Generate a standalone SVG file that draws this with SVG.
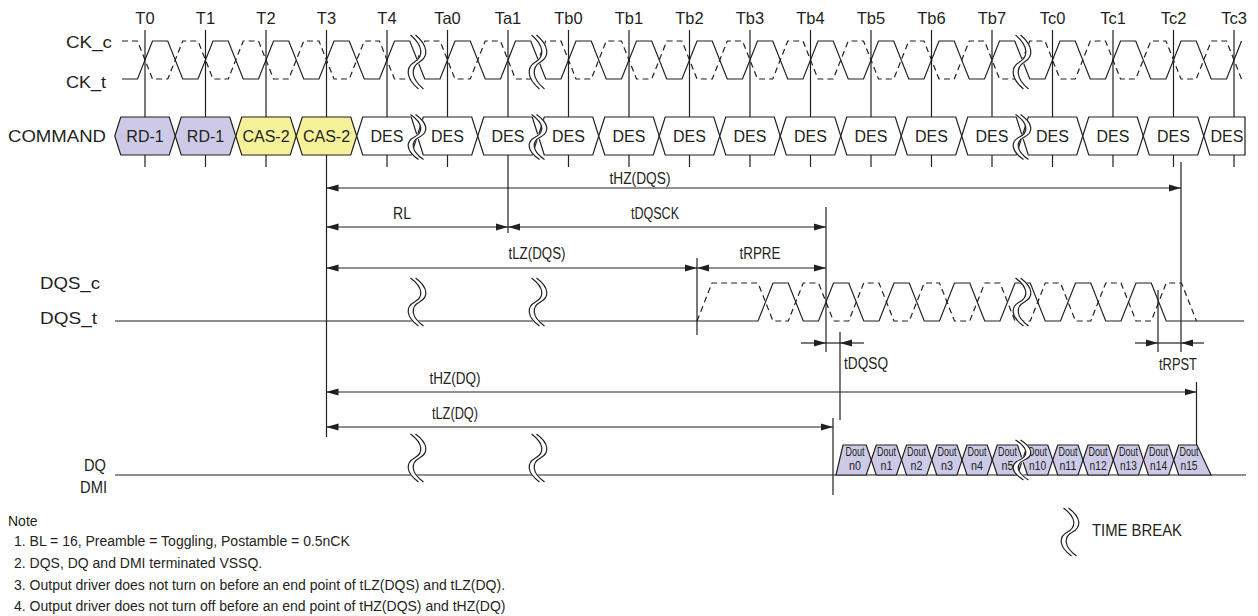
<svg xmlns="http://www.w3.org/2000/svg" width="1258" height="616" viewBox="0 0 1258 616">
<style>
text{font-family:"Liberation Sans",Arial,sans-serif;fill:#231f20}
.sig{font-size:17px}
.tl{font-size:16.5px;text-anchor:middle}
.cmd{font-size:16px;text-anchor:middle}
.tm{font-size:16px;text-anchor:middle}
.tms{font-size:16px}
.dout{font-size:12.5px;text-anchor:middle}
.note{font-size:14px}
.ln{fill:none;stroke:#231f20;stroke-width:1.2}
.dash{fill:none;stroke:#231f20;stroke-width:1.2;stroke-dasharray:6 4}
.hex{stroke:#231f20;stroke-width:1.2}
.des{fill:#fff}
.rd{fill:#cccae6}
.cas{fill:#f7f29a}
.arr{fill:none;stroke:#231f20;stroke-width:1.2;marker-start:url(#ah);marker-end:url(#ah)}
.arr1{fill:none;stroke:#231f20;stroke-width:1.2;marker-end:url(#ah)}
.bw{fill:none;stroke:#fff;stroke-width:5}
.bk{fill:none;stroke:#231f20;stroke-width:1.2}
</style>
<defs>
<marker id="ah" viewBox="0 0 12 8" refX="12" refY="4" markerWidth="12" markerHeight="8" markerUnits="userSpaceOnUse" orient="auto-start-reverse"><path d="M0,0.5 L12,4 L0,7.5 Z" fill="#231f20"/></marker>
<g id="brk">
<path class="bw" vector-effect="non-scaling-stroke" d="M-4,-25 C9,-15 9,-5 0,0 C-9,5 -9,15 4,25"/>
<path class="bk" vector-effect="non-scaling-stroke" transform="translate(-2.5,0)" d="M-4,-25 C9,-15 9,-5 0,0 C-9,5 -9,15 4,25"/>
<path class="bk" vector-effect="non-scaling-stroke" transform="translate(2.5,0)" d="M-4,-25 C9,-15 9,-5 0,0 C-9,5 -9,15 4,25"/>
</g>
</defs>
<rect width="1258" height="616" fill="#fff"/>

<g id="time-labels">
<text class="tl" x="145" y="24">T0</text>
<text class="tl" x="205.5" y="24">T1</text>
<text class="tl" x="266" y="24">T2</text>
<text class="tl" x="326.5" y="24">T3</text>
<text class="tl" x="387" y="24">T4</text>
<text class="tl" x="447.5" y="24">Ta0</text>
<text class="tl" x="508" y="24">Ta1</text>
<text class="tl" x="568.5" y="24">Tb0</text>
<text class="tl" x="629" y="24">Tb1</text>
<text class="tl" x="689.5" y="24">Tb2</text>
<text class="tl" x="750" y="24">Tb3</text>
<text class="tl" x="810.5" y="24">Tb4</text>
<text class="tl" x="871" y="24">Tb5</text>
<text class="tl" x="931.5" y="24">Tb6</text>
<text class="tl" x="992" y="24">Tb7</text>
<text class="tl" x="1052.5" y="24">Tc0</text>
<text class="tl" x="1113" y="24">Tc1</text>
<text class="tl" x="1173.5" y="24">Tc2</text>
<text class="tl" x="1234" y="24">Tc3</text>
</g>

<g id="signal-labels">
<text class="sig" x="66" y="48" textLength="46" lengthAdjust="spacingAndGlyphs">CK_c</text>
<text class="sig" x="66" y="88" textLength="40" lengthAdjust="spacingAndGlyphs">CK_t</text>
<text class="sig" x="8" y="142" textLength="98" lengthAdjust="spacingAndGlyphs">COMMAND</text>
<text class="sig" x="40" y="289" textLength="60" lengthAdjust="spacingAndGlyphs">DQS_c</text>
<text class="sig" x="40" y="324" textLength="57" lengthAdjust="spacingAndGlyphs">DQS_t</text>
<text class="sig" x="84" y="471" textLength="22" lengthAdjust="spacingAndGlyphs">DQ</text>
<text class="sig" x="80" y="493" textLength="27" lengthAdjust="spacingAndGlyphs">DMI</text>
</g>

<g id="clock">
<path class="dash" d="M122,41 L137.5,41 L152.5,79 L167.75,79 L182.75,41 L198,41 L213,79 L228.25,79 L243.25,41 L258.5,41 L273.5,79 L288.75,79 L303.75,41 L319,41 L334,79 L349.25,79 L364.25,41 L379.5,41 L394.5,79 L409.75,79 L424.75,41 L440,41 L455,79 L470.25,79 L485.25,41 L500.5,41 L515.5,79 L530.75,79 L545.75,41 L561,41 L576,79 L591.25,79 L606.25,41 L621.5,41 L636.5,79 L651.75,79 L666.75,41 L682,41 L697,79 L712.25,79 L727.25,41 L742.5,41 L757.5,79 L772.75,79 L787.75,41 L803,41 L818,79 L833.25,79 L848.25,41 L863.5,41 L878.5,79 L893.75,79 L908.75,41 L924,41 L939,79 L954.25,79 L969.25,41 L984.5,41 L999.5,79 L1014.75,79 L1029.75,41 L1045,41 L1060,79 L1075.25,79 L1090.25,41 L1105.5,41 L1120.5,79 L1135.75,79 L1150.75,41 L1166,41 L1181,79 L1196.25,79 L1211.25,41 L1226.5,41 L1241.5,79"/>
<path class="ln" d="M122,79 L137.5,79 L152.5,41 L167.75,41 L182.75,79 L198,79 L213,41 L228.25,41 L243.25,79 L258.5,79 L273.5,41 L288.75,41 L303.75,79 L319,79 L334,41 L349.25,41 L364.25,79 L379.5,79 L394.5,41 L409.75,41 L424.75,79 L440,79 L455,41 L470.25,41 L485.25,79 L500.5,79 L515.5,41 L530.75,41 L545.75,79 L561,79 L576,41 L591.25,41 L606.25,79 L621.5,79 L636.5,41 L651.75,41 L666.75,79 L682,79 L697,41 L712.25,41 L727.25,79 L742.5,79 L757.5,41 L772.75,41 L787.75,79 L803,79 L818,41 L833.25,41 L848.25,79 L863.5,79 L878.5,41 L893.75,41 L908.75,79 L924,79 L939,41 L954.25,41 L969.25,79 L984.5,79 L999.5,41 L1014.75,41 L1029.75,79 L1045,79 L1060,41 L1075.25,41 L1090.25,79 L1105.5,79 L1120.5,41 L1135.75,41 L1150.75,79 L1166,79 L1181,41 L1196.25,41 L1211.25,79 L1226.5,79 L1241.5,41"/>
</g>

<g id="connectors">
<path class="ln" d="M145,30V117 M205.5,30V117 M266,30V117 M326.5,30V117 M387,30V117 M447.5,30V117 M508,30V117 M568.5,30V117 M629,30V117 M689.5,30V117 M750,30V117 M810.5,30V117 M871,30V117 M931.5,30V117 M992,30V117 M1052.5,30V117 M1113,30V117 M1173.5,30V117 M1234,30V117"/>
<path class="ln" d="M145,155V167 M205.5,155V167 M266,155V167 M326.5,155V437 M387,155V167 M447.5,155V167 M508,155V233 M568.5,155V167 M629,155V167 M689.5,155V167 M750,155V167 M810.5,155V167 M871,155V167 M931.5,155V167 M992,155V167 M1052.5,155V167 M1113,155V167 M1173.5,155V167 M1234,155V167"/>
<path class="ln" d="M826,207V352 M697,258V335 M1181,162V352 M1158,290V352 M840,332V420 M833,418V495 M1196.5,382V445"/>
<path class="arr" d="M326.5,188 H1181"/>
<path class="arr" d="M326.5,227 H508"/>
<path class="arr" d="M508,227 H826"/>
<path class="arr" d="M326.5,268 H697"/>
<path class="arr" d="M697,268 H826"/>
<path class="arr1" d="M801,343 H826"/>
<path class="arr1" d="M864,343 H840"/>
<path class="ln" d="M826,343 H840"/>
<path class="arr1" d="M1135,343 H1158"/>
<path class="arr1" d="M1204,343 H1181"/>
<path class="ln" d="M1158,343 H1181"/>
<path class="arr" d="M326.5,392 H1196.5"/>
<path class="arr" d="M326.5,427 H833"/>
</g>

<g id="timing-labels">
<text class="tm" x="640" y="184" textLength="61" lengthAdjust="spacingAndGlyphs">tHZ(DQS)</text>
<text class="tm" x="402" y="219" textLength="18" lengthAdjust="spacingAndGlyphs">RL</text>
<text class="tm" x="655" y="219" textLength="48" lengthAdjust="spacingAndGlyphs">tDQSCK</text>
<text class="tm" x="537" y="259" textLength="57" lengthAdjust="spacingAndGlyphs">tLZ(DQS)</text>
<text class="tm" x="760" y="259" textLength="41" lengthAdjust="spacingAndGlyphs">tRPRE</text>
<text class="tms" x="844" y="369" textLength="44" lengthAdjust="spacingAndGlyphs">tDQSQ</text>
<text class="tms" x="1159" y="370" textLength="38" lengthAdjust="spacingAndGlyphs">tRPST</text>
<text class="tm" x="455" y="384" textLength="51" lengthAdjust="spacingAndGlyphs">tHZ(DQ)</text>
<text class="tm" x="455" y="419" textLength="46" lengthAdjust="spacingAndGlyphs">tLZ(DQ)</text>
</g>

<g id="cmd-T0"><path class="hex rd" d="M114.75,136 L120.75,117 L169.25,117 L175.25,136 L169.25,155 L120.75,155 Z"/><text class="cmd" x="145" y="141.5">RD-1</text></g>
<g id="cmd-T1"><path class="hex rd" d="M175.25,136 L181.25,117 L229.75,117 L235.75,136 L229.75,155 L181.25,155 Z"/><text class="cmd" x="205.5" y="141.5">RD-1</text></g>
<g id="cmd-T2"><path class="hex cas" d="M235.75,136 L241.75,117 L290.25,117 L296.25,136 L290.25,155 L241.75,155 Z"/><text class="cmd" x="266" y="141.5">CAS-2</text></g>
<g id="cmd-T3"><path class="hex cas" d="M296.25,136 L302.25,117 L350.75,117 L356.75,136 L350.75,155 L302.25,155 Z"/><text class="cmd" x="326.5" y="141.5">CAS-2</text></g>
<g id="cmd-T4"><path class="hex des" d="M356.75,136 L362.75,117 L411.25,117 L417.25,136 L411.25,155 L362.75,155 Z"/><text class="cmd" x="387" y="141.5">DES</text></g>
<g id="cmd-Ta0"><path class="hex des" d="M417.25,136 L423.25,117 L471.75,117 L477.75,136 L471.75,155 L423.25,155 Z"/><text class="cmd" x="447.5" y="141.5">DES</text></g>
<g id="cmd-Ta1"><path class="hex des" d="M477.75,136 L483.75,117 L532.25,117 L538.25,136 L532.25,155 L483.75,155 Z"/><text class="cmd" x="508" y="141.5">DES</text></g>
<g id="cmd-Tb0"><path class="hex des" d="M538.25,136 L544.25,117 L592.75,117 L598.75,136 L592.75,155 L544.25,155 Z"/><text class="cmd" x="568.5" y="141.5">DES</text></g>
<g id="cmd-Tb1"><path class="hex des" d="M598.75,136 L604.75,117 L653.25,117 L659.25,136 L653.25,155 L604.75,155 Z"/><text class="cmd" x="629" y="141.5">DES</text></g>
<g id="cmd-Tb2"><path class="hex des" d="M659.25,136 L665.25,117 L713.75,117 L719.75,136 L713.75,155 L665.25,155 Z"/><text class="cmd" x="689.5" y="141.5">DES</text></g>
<g id="cmd-Tb3"><path class="hex des" d="M719.75,136 L725.75,117 L774.25,117 L780.25,136 L774.25,155 L725.75,155 Z"/><text class="cmd" x="750" y="141.5">DES</text></g>
<g id="cmd-Tb4"><path class="hex des" d="M780.25,136 L786.25,117 L834.75,117 L840.75,136 L834.75,155 L786.25,155 Z"/><text class="cmd" x="810.5" y="141.5">DES</text></g>
<g id="cmd-Tb5"><path class="hex des" d="M840.75,136 L846.75,117 L895.25,117 L901.25,136 L895.25,155 L846.75,155 Z"/><text class="cmd" x="871" y="141.5">DES</text></g>
<g id="cmd-Tb6"><path class="hex des" d="M901.25,136 L907.25,117 L955.75,117 L961.75,136 L955.75,155 L907.25,155 Z"/><text class="cmd" x="931.5" y="141.5">DES</text></g>
<g id="cmd-Tb7"><path class="hex des" d="M961.75,136 L967.75,117 L1016.25,117 L1022.25,136 L1016.25,155 L967.75,155 Z"/><text class="cmd" x="992" y="141.5">DES</text></g>
<g id="cmd-Tc0"><path class="hex des" d="M1022.25,136 L1028.25,117 L1076.75,117 L1082.75,136 L1076.75,155 L1028.25,155 Z"/><text class="cmd" x="1052.5" y="141.5">DES</text></g>
<g id="cmd-Tc1"><path class="hex des" d="M1082.75,136 L1088.75,117 L1137.25,117 L1143.25,136 L1137.25,155 L1088.75,155 Z"/><text class="cmd" x="1113" y="141.5">DES</text></g>
<g id="cmd-Tc2"><path class="hex des" d="M1143.25,136 L1149.25,117 L1197.75,117 L1203.75,136 L1197.75,155 L1149.25,155 Z"/><text class="cmd" x="1173.5" y="141.5">DES</text></g>
<g id="cmd-Tc3"><path class="hex des" d="M1203.75,136 L1209.75,117 L1245,117 L1245,155 L1209.75,155 Z"/><text class="cmd" x="1227" y="141.5">DES</text></g>

<g id="dqs">
<path class="dash" d="M697,321 L712,283 L758,283 L773,321 L788.25,321 L803.25,283 L818.5,283 L833.5,321 L848.75,321 L863.75,283 L879,283 L894,321 L909.25,321 L924.25,283 L939.5,283 L954.5,321 L969.75,321 L984.75,283 L1000,283 L1015,321 L1030.25,321 L1045.25,283 L1060.5,283 L1075.5,321 L1090.75,321 L1105.75,283 L1121,283 L1136,321 L1151.25,321 L1166.25,283 L1181.5,283 L1196.5,321"/>
<path class="ln" d="M115,321 L758,321 L773,283 L788.25,283 L803.25,321 L818.5,321 L833.5,283 L848.75,283 L863.75,321 L879,321 L894,283 L909.25,283 L924.25,321 L939.5,321 L954.5,283 L969.75,283 L984.75,321 L1000,321 L1015,283 L1030.25,283 L1045.25,321 L1060.5,321 L1075.5,283 L1090.75,283 L1105.75,321 L1121,321 L1136,283 L1151.25,283 L1166.25,321 L1244,321"/>
</g>

<g id="dq-line"><path class="ln" d="M115,475 H1246"/></g>
<g id="dout-n0"><path class="hex rd" d="M836,475 L843,445 L866.25,445 L871.25,460 L866.25,475 Z"/><text class="dout" x="855" y="455.5" textLength="19" lengthAdjust="spacingAndGlyphs">Dout</text><text class="dout" x="855" y="470" textLength="12" lengthAdjust="spacingAndGlyphs">n0</text></g>
<g id="dout-n1"><path class="hex rd" d="M871.25,460 L876.25,445 L896.5,445 L901.5,460 L896.5,475 L876.25,475 Z"/><text class="dout" x="886.4" y="455.5" textLength="19" lengthAdjust="spacingAndGlyphs">Dout</text><text class="dout" x="886.4" y="470" textLength="12" lengthAdjust="spacingAndGlyphs">n1</text></g>
<g id="dout-n2"><path class="hex rd" d="M901.5,460 L906.5,445 L926.75,445 L931.75,460 L926.75,475 L906.5,475 Z"/><text class="dout" x="916.6" y="455.5" textLength="19" lengthAdjust="spacingAndGlyphs">Dout</text><text class="dout" x="916.6" y="470" textLength="12" lengthAdjust="spacingAndGlyphs">n2</text></g>
<g id="dout-n3"><path class="hex rd" d="M931.75,460 L936.75,445 L957,445 L962,460 L957,475 L936.75,475 Z"/><text class="dout" x="946.9" y="455.5" textLength="19" lengthAdjust="spacingAndGlyphs">Dout</text><text class="dout" x="946.9" y="470" textLength="12" lengthAdjust="spacingAndGlyphs">n3</text></g>
<g id="dout-n4"><path class="hex rd" d="M962,460 L967,445 L987.25,445 L992.25,460 L987.25,475 L967,475 Z"/><text class="dout" x="977.1" y="455.5" textLength="19" lengthAdjust="spacingAndGlyphs">Dout</text><text class="dout" x="977.1" y="470" textLength="12" lengthAdjust="spacingAndGlyphs">n4</text></g>
<g id="dout-n5"><path class="hex rd" d="M992.25,460 L997.25,445 L1017.5,445 L1022.5,460 L1017.5,475 L997.25,475 Z"/><text class="dout" x="1007.4" y="455.5" textLength="19" lengthAdjust="spacingAndGlyphs">Dout</text><text class="dout" x="1007.4" y="470" textLength="12" lengthAdjust="spacingAndGlyphs">n5</text></g>
<g id="dout-n10"><path class="hex rd" d="M1022.5,460 L1027.5,445 L1047.75,445 L1052.75,460 L1047.75,475 L1027.5,475 Z"/><text class="dout" x="1037.6" y="455.5" textLength="19" lengthAdjust="spacingAndGlyphs">Dout</text><text class="dout" x="1037.6" y="470" textLength="17" lengthAdjust="spacingAndGlyphs">n10</text></g>
<g id="dout-n11"><path class="hex rd" d="M1052.75,460 L1057.75,445 L1078,445 L1083,460 L1078,475 L1057.75,475 Z"/><text class="dout" x="1067.9" y="455.5" textLength="19" lengthAdjust="spacingAndGlyphs">Dout</text><text class="dout" x="1067.9" y="470" textLength="17" lengthAdjust="spacingAndGlyphs">n11</text></g>
<g id="dout-n12"><path class="hex rd" d="M1083,460 L1088,445 L1108.25,445 L1113.25,460 L1108.25,475 L1088,475 Z"/><text class="dout" x="1098.1" y="455.5" textLength="19" lengthAdjust="spacingAndGlyphs">Dout</text><text class="dout" x="1098.1" y="470" textLength="17" lengthAdjust="spacingAndGlyphs">n12</text></g>
<g id="dout-n13"><path class="hex rd" d="M1113.25,460 L1118.25,445 L1138.5,445 L1143.5,460 L1138.5,475 L1118.25,475 Z"/><text class="dout" x="1128.4" y="455.5" textLength="19" lengthAdjust="spacingAndGlyphs">Dout</text><text class="dout" x="1128.4" y="470" textLength="17" lengthAdjust="spacingAndGlyphs">n13</text></g>
<g id="dout-n14"><path class="hex rd" d="M1143.5,460 L1148.5,445 L1168.75,445 L1173.75,460 L1168.75,475 L1148.5,475 Z"/><text class="dout" x="1158.6" y="455.5" textLength="19" lengthAdjust="spacingAndGlyphs">Dout</text><text class="dout" x="1158.6" y="470" textLength="17" lengthAdjust="spacingAndGlyphs">n14</text></g>
<g id="dout-n15"><path class="hex rd" d="M1173.75,460 L1178.75,445 L1197,445 L1211,475 L1178.75,475 Z"/><text class="dout" x="1189" y="455.5" textLength="19" lengthAdjust="spacingAndGlyphs">Dout</text><text class="dout" x="1189" y="470" textLength="17" lengthAdjust="spacingAndGlyphs">n15</text></g>

<g id="time-breaks">
<use href="#brk" transform="translate(417,62) scale(1,1.08)"/>
<use href="#brk" transform="translate(538,62) scale(1,1.08)"/>
<use href="#brk" transform="translate(1022,62) scale(1,1.08)"/>
<use href="#brk" transform="translate(417,137) scale(1,0.9)"/>
<use href="#brk" transform="translate(538,137) scale(1,0.9)"/>
<use href="#brk" transform="translate(1022,137) scale(1,0.9)"/>
<use href="#brk" transform="translate(417,302) scale(1,0.96)"/>
<use href="#brk" transform="translate(538,302) scale(1,0.96)"/>
<use href="#brk" transform="translate(1022,302) scale(1,0.96)"/>
<use href="#brk" transform="translate(417,458) scale(1,0.96)"/>
<use href="#brk" transform="translate(538,458) scale(1,0.96)"/>
<use href="#brk" transform="translate(1022,460) scale(1,0.8)"/>
</g>

<g id="legend">
<use href="#brk" transform="translate(1070,532) scale(1,0.96)"/>
<text class="tms" x="1092" y="536" textLength="90" lengthAdjust="spacingAndGlyphs">TIME BREAK</text>
</g>

<g id="notes">
<text class="note" x="8" y="526">Note</text>
<text class="note" x="14" y="546">1. BL = 16, Preamble = Toggling, Postamble = 0.5nCK</text>
<text class="note" x="14" y="568">2. DQS, DQ and DMI terminated VSSQ.</text>
<text class="note" x="14" y="590">3. Output driver does not turn on before an end point of tLZ(DQS) and tLZ(DQ).</text>
<text class="note" x="14" y="611">4. Output driver does not turn off before an end point of tHZ(DQS) and tHZ(DQ)</text>
</g>
</svg>
